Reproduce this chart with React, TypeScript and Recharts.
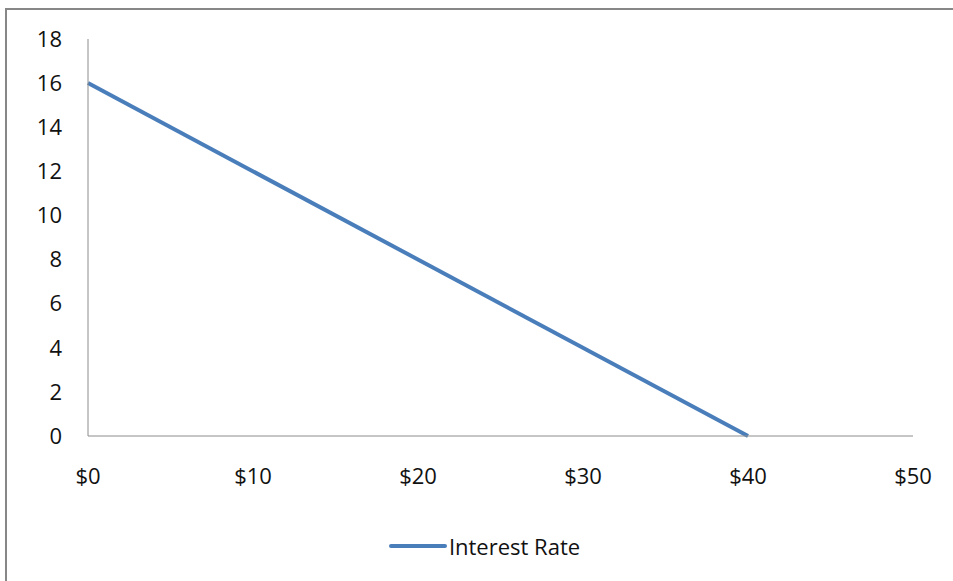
import React from "react";
import { LineChart, Line, XAxis, YAxis, Legend } from "recharts";

// Loan amount (dollars) on the x axis, interest rate on the y axis
const amounts = [0, 40];
const rates = [16, 0];
const xTicks = [0, 10, 20, 30, 40, 50];
const yTicks = [0, 2, 4, 6, 8, 10, 12, 14, 16, 18];
const seriesName = "Interest Rate";

const data = amounts.map((a, i) => ({ amount: a, rate: rates[i] }));

const FONT = "'Open Sans', sans-serif";
const FONT_SIZE = 22;
const TEXT_COLOR = "#111";
const LINE_COLOR = "#4a7ebb";
const AXIS_COLOR = "#8c8c8c";

const renderLegend = () => (
  <div
    style={{
      display: "flex",
      justifyContent: "center",
      alignItems: "center",
      paddingTop: 15,
      paddingLeft: 56,
      fontFamily: FONT,
      fontSize: FONT_SIZE,
      color: TEXT_COLOR,
    }}
  >
    <svg width={58} height={8} style={{ marginRight: 2 }}>
      <line x1={2} y1={4} x2={56} y2={4} stroke={LINE_COLOR} strokeWidth={4} strokeLinecap="round" />
    </svg>
    <span>{seriesName}</span>
  </div>
);

export default function App() {
  return (
    <div style={{ position: "absolute", left: 0, top: 0, width: 953, height: 581, overflow: "hidden", background: "#fff" }}>
      <div
        style={{
          position: "absolute",
          left: 5,
          top: 8,
          width: 1000,
          height: 700,
          border: "2px solid #878787",
          boxSizing: "border-box",
        }}
      />
      <div style={{ position: "absolute", left: 0, top: 0 }}>
        <LineChart width={953} height={581} data={data} margin={{ top: 39, right: 40, left: 0, bottom: 0 }}>
          <XAxis
            dataKey="amount"
            type="number"
            domain={[0, 50]}
            ticks={xTicks}
            tickFormatter={(v) => `$${v}`}
            axisLine={{ stroke: AXIS_COLOR, strokeWidth: 1 }}
            tickLine={false}
            tickSize={0}
            tickMargin={32}
            height={80}
            tick={{ fill: TEXT_COLOR, fontSize: FONT_SIZE, fontFamily: FONT }}
          />
          <YAxis
            type="number"
            domain={[0, 18]}
            ticks={yTicks}
            interval={0}
            axisLine={{ stroke: AXIS_COLOR, strokeWidth: 1 }}
            tickLine={false}
            tickSize={0}
            tickMargin={26}
            width={88}
            tick={{ fill: TEXT_COLOR, fontSize: FONT_SIZE, fontFamily: FONT }}
          />
          <Legend verticalAlign="bottom" height={65} content={renderLegend} />
          <Line
            dataKey="rate"
            name={seriesName}
            stroke={LINE_COLOR}
            strokeWidth={4}
            dot={false}
            isAnimationActive={false}
          />
        </LineChart>
      </div>
    </div>
  );
}
